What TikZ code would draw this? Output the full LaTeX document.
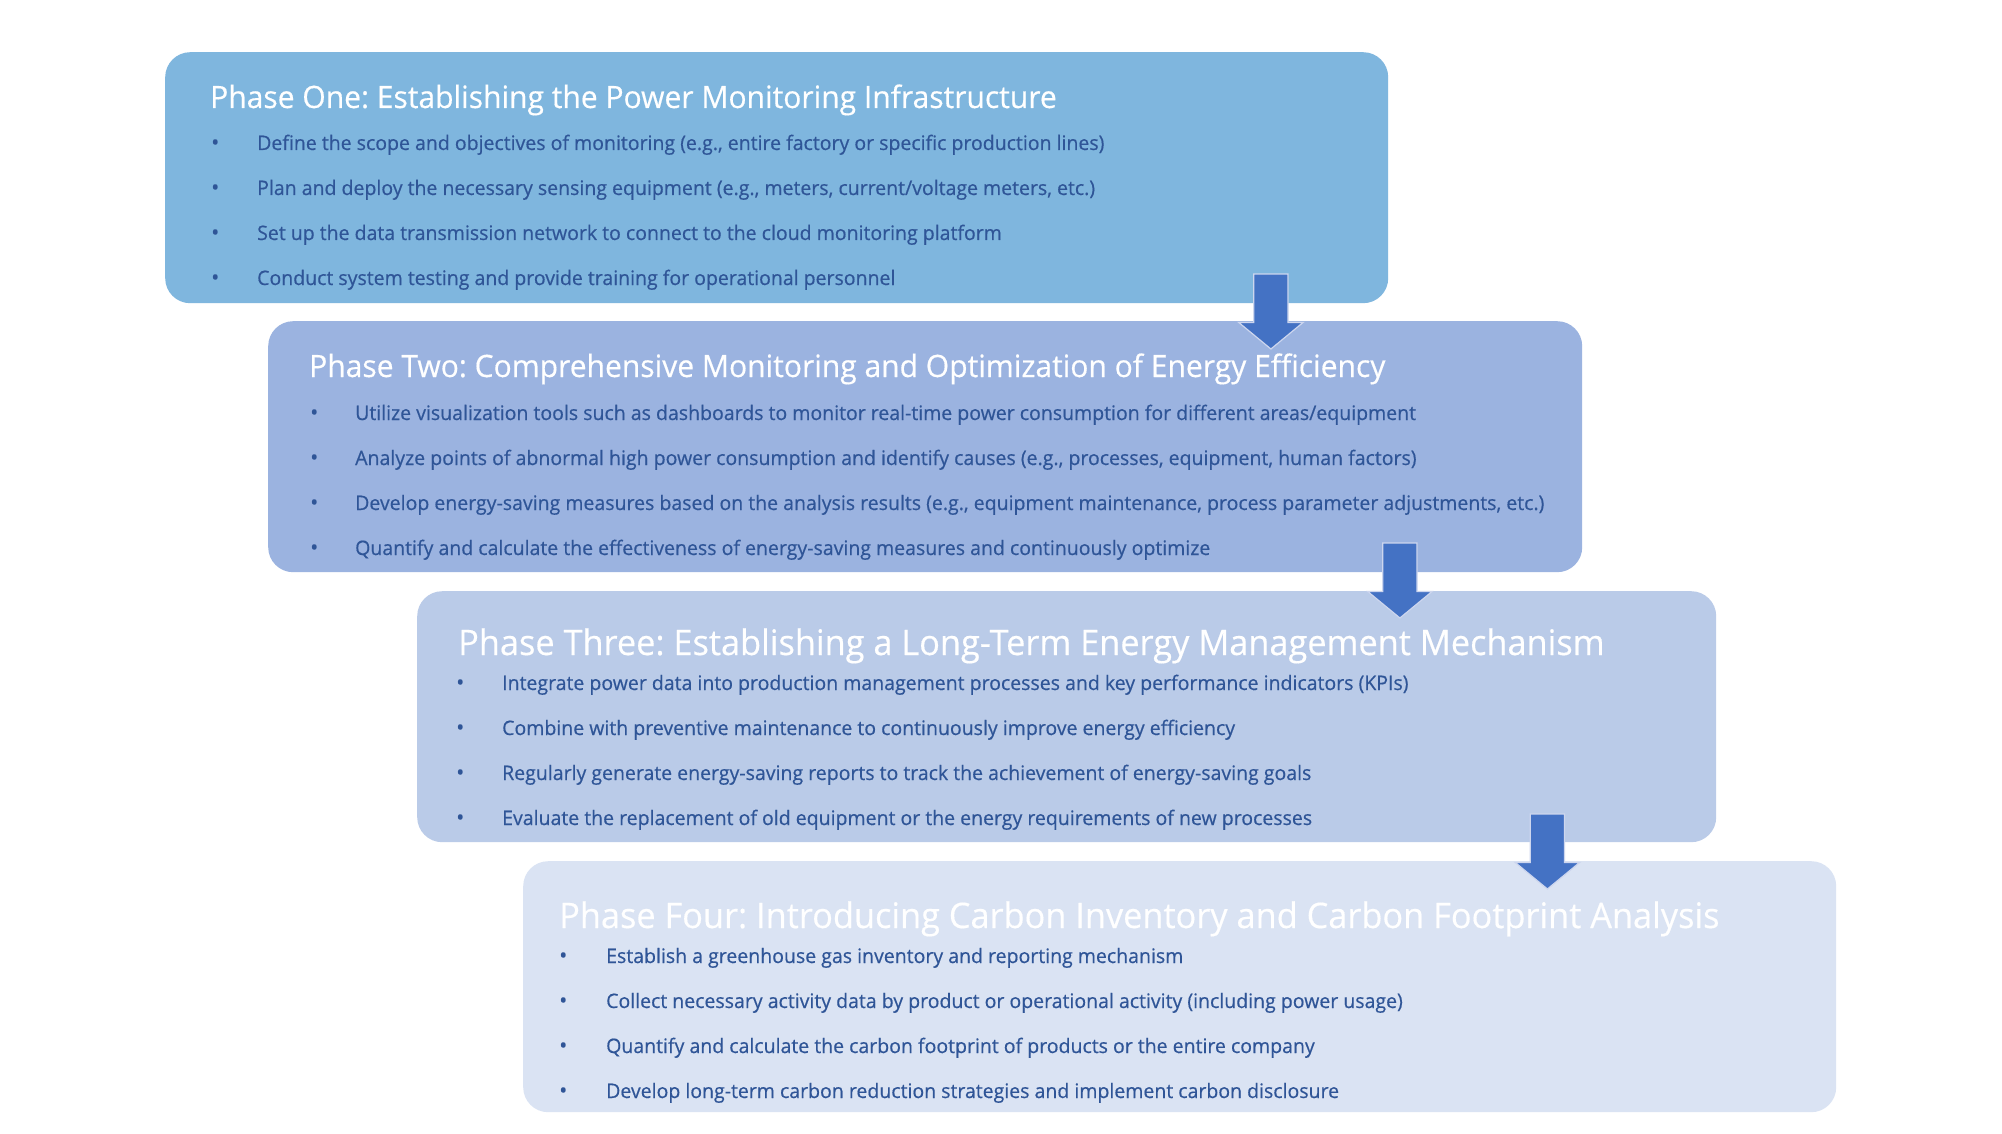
\documentclass[tikz,border=0pt]{standalone}
\usepackage{fontspec}
\setmainfont{Open Sans}[FakeStretch=0.975]
\newfontfamily\itemfont{Open Sans}[FakeStretch=0.975, FakeBold=0.5]
\newfontfamily\headfont{Open Sans}[FakeStretch=0.975, FakeBold=0.4]
\usepackage{xcolor}
\usetikzlibrary{calc, shapes.arrows, positioning}
\frenchspacing
\definecolor{phaseone}{RGB}{127,182,222}
\definecolor{phasetwo}{RGB}{155,179,224}
\definecolor{phasethree}{RGB}{186,203,232}
\definecolor{phasefour}{RGB}{218,227,243}
\definecolor{itemblue}{RGB}{47,85,151}
\definecolor{arrowblue}{RGB}{68,114,196}
\definecolor{arrowedge}{RGB}{205,214,238}
\tikzset{
    phasebox/.style={rectangle, rounded corners=25pt, inner sep=0pt, anchor=north west},
    phasetitle/.style={anchor=base west, inner sep=0pt, text=white, font=\headfont\fontsize{30.8}{36}\selectfont},
    bigtitle/.style={phasetitle, font=\headfont\fontsize{35.2}{40}\selectfont},
    itemtext/.style={anchor=base west, inner sep=0pt, text=itemblue, font=\itemfont\fontsize{20}{24}\selectfont},
    itemdot/.style={itemtext, font=\itemfont\fontsize{22}{26}\selectfont},
    downarrow/.style={single arrow, rotate=-90, anchor=tail, fill=arrowblue, draw=arrowedge, line width=1.2pt,
        minimum height=75pt, single arrow head extend=15pt, single arrow tip angle=101, inner xsep=0pt, inner ysep=16.5pt}
}
\begin{document}
\begin{tikzpicture}[x=1pt, y=-1pt]
    \fill[white] (0,0) rectangle (2002,1134);
    \useasboundingbox (0,0) rectangle (2002,1134);
    % the four phase panels
    \node[phasebox, fill=phaseone, minimum width=1223pt, minimum height=251pt] (p1) at (165,52) {};
    \node[phasebox, fill=phasetwo, minimum width=1314pt, minimum height=251pt] (p2) at (268,321) {};
    \node[phasebox, fill=phasethree, minimum width=1299pt, minimum height=251pt] (p3) at (417,591) {};
    \node[phasebox, fill=phasefour, minimum width=1313pt, minimum height=251pt] (p4) at (523,861) {};
    % phase one
    \node[phasetitle] (t1) at (210,108) {Phase One: Establishing the Power Monitoring Infrastructure};
    \foreach \txt [count=\i] in {{Define the scope and objectives of monitoring (e.g., entire factory or specific production lines)},
        {Plan and deploy the necessary sensing equipment (e.g., meters, current/voltage meters, etc.)},
        {Set up the data transmission network to connect to the cloud monitoring platform},
        {Conduct system testing and provide training for operational personnel}} {
        \node[itemdot] at (211,105+45*\i) {•};
        \node[itemtext] (a\i) at (257,105+45*\i) {\txt};
    }
    % phase two
    \node[phasetitle] (t2) at (309,377) {Phase Two: Comprehensive Monitoring and Optimization of Energy Efficiency};
    \foreach \txt [count=\i] in {{Utilize visualization tools such as dashboards to monitor real-time power consumption for different areas/equipment},
        {Analyze points of abnormal high power consumption and identify causes (e.g., processes, equipment, human factors)},
        {Develop energy-saving measures based on the analysis results (e.g., equipment maintenance, process parameter adjustments, etc.)},
        {Quantify and calculate the effectiveness of energy-saving measures and continuously optimize}} {
        \node[itemdot] at (310,375+45*\i) {•};
        \node[itemtext] (b\i) at (355,375+45*\i) {\txt};
    }
    % phase three
    \node[bigtitle] (t3) at (458,655) {Phase Three: Establishing a Long-Term Energy Management Mechanism};
    \foreach \txt [count=\i] in {{Integrate power data into production management processes and key performance indicators (KPIs)},
        {Combine with preventive maintenance to continuously improve energy efficiency},
        {Regularly generate energy-saving reports to track the achievement of energy-saving goals},
        {Evaluate the replacement of old equipment or the energy requirements of new processes}} {
        \node[itemdot] at (456,645+45*\i) {•};
        \node[itemtext] (c\i) at (502,645+45*\i) {\txt};
    }
    % phase four
    \node[bigtitle] (t4) at (559,928) {Phase Four: Introducing Carbon Inventory and Carbon Footprint Analysis};
    \foreach \txt [count=\i] in {{Establish a greenhouse gas inventory and reporting mechanism},
        {Collect necessary activity data by product or operational activity (including power usage)},
        {Quantify and calculate the carbon footprint of products or the entire company},
        {Develop long-term carbon reduction strategies and implement carbon disclosure}} {
        \node[itemdot] at (559,918+45*\i) {•};
        \node[itemtext] (d\i) at (606,918+45*\i) {\txt};
    }
    % arrows between the phases
    \node[downarrow] (s1) at ($(p1.south east)+(-117.5,-30)$) {};
    \node[downarrow] (s2) at ($(p2.south east)+(-182.5,-30)$) {};
    \node[downarrow] (s3) at ($(p3.south east)+(-169,-29)$) {};
\end{tikzpicture}
\end{document}
